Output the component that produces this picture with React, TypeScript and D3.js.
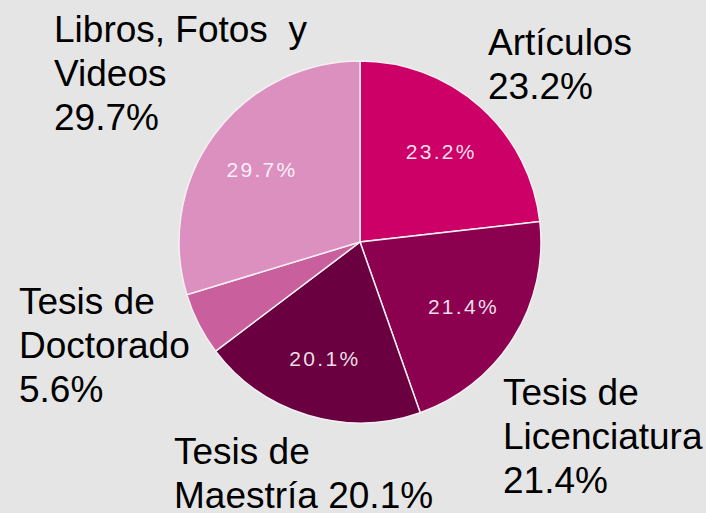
import React from "react";
import * as d3 from "d3";

const categories = ["Artículos", "Tesis de Licenciatura", "Tesis de Maestría", "Tesis de Doctorado", "Libros, Fotos y Videos"];
const values = [23.2, 21.4, 20.1, 5.6, 29.7];
const colors = ["#CC0066", "#8C0050", "#6B0040", "#CA5F9D", "#DC90C0"];
const innerLabels = ["23.2%", "21.4%", "20.1%", "", "29.7%"];
const outerLabelLines = [
  ["Artículos", "23.2%"],
  ["Tesis de", "Licenciatura", "21.4%"],
  ["Tesis de", "Maestría 20.1%"],
  ["Tesis de", "Doctorado", "5.6%"],
  ["Libros, Fotos  y", "Videos", "29.7%"],
];
const outerLabelAnchors: [number, number][] = [
  [488, 55],
  [503, 405],
  [174, 464],
  [19, 314],
  [54, 42],
];

export default function App() {
  const W = 706, H = 513;
  const cx = 360, cy = 242, r = 181;
  const pie = d3.pie<number>().sort(null).value((d) => d);
  const arcs = pie(values);
  const arc = d3.arc<d3.PieArcDatum<number>>().innerRadius(0).outerRadius(r);
  const labelArc = d3.arc<d3.PieArcDatum<number>>().innerRadius(244).outerRadius(0);
  const lineH = 44;
  return (
    <svg width={W} height={H} style={{ position: "absolute", left: 0, top: 0, background: "#E5E5E5" }}>
      <rect x={0} y={0} width={W} height={H} fill="#E5E5E5" />
      <g transform={`translate(${cx},${cy})`}>
        {arcs.map((a, i) => (
          <path key={i} d={arc(a) || ""} fill={colors[i]} stroke="#F4F0F2" strokeWidth={1.5} />
        ))}
        {arcs.map((a, i) => {
          const [x, y] = labelArc.centroid(a);
          return innerLabels[i] ? (
            <text key={"l" + i} x={x} y={y} textAnchor="middle" dominantBaseline="central"
              fill="#FFFFFF" fillOpacity={0.88} fontFamily="Liberation Sans, Arial, sans-serif"
              fontSize={21} letterSpacing={2.3}>
              {innerLabels[i]}
            </text>
          ) : null;
        })}
      </g>
      {outerLabelLines.map((lines, i) => (
        <text key={"o" + i} x={outerLabelAnchors[i][0]} y={outerLabelAnchors[i][1]}
          fontFamily="Liberation Sans, Arial, sans-serif" fontSize={37} fill="#000">
          {lines.map((ln, j) => (
            <tspan key={j} x={outerLabelAnchors[i][0]} dy={j === 0 ? 0 : lineH} style={{ whiteSpace: "pre" }}>{ln}</tspan>
          ))}
        </text>
      ))}
    </svg>
  );
}
